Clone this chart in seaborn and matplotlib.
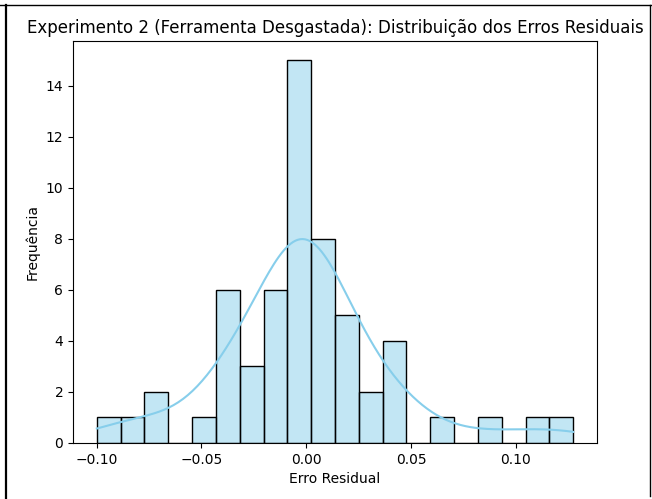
import numpy as np
import pandas as pd
import seaborn as sns
import matplotlib.pyplot as plt
from matplotlib.lines import Line2D

# histogram: 20 bins, data range about -0.0999 .. 0.1273
erro_min = -0.0999
erro_max = 0.1273
counts = [1, 1, 2, 0, 1, 6, 3, 6, 15, 8, 5, 2, 4, 0, 1, 0, 1, 0, 1, 1]

edges = np.linspace(erro_min, erro_max, len(counts) + 1)
centers = (edges[:-1] + edges[1:]) / 2
valores = np.repeat(centers, counts)
# the smallest and largest residual sit on the outer bin edges
valores[0] = erro_min
valores[-1] = erro_max
residuos = pd.DataFrame({'Erro Residual': valores})

fig = plt.figure(figsize=(6.52, 4.99), dpi=100)
ax = fig.add_axes([73 / 652, 1 - 443 / 499, (597 - 73) / 652, (443 - 41) / 499])

sns.histplot(data=residuos, x='Erro Residual', bins=20, kde=True, color='skyblue', ax=ax)
ax.set_title('Experimento 2 (Ferramenta Desgastada): Distribuição dos Erros Residuais')
ax.set_xlabel('Erro Residual')
ax.set_ylabel('Frequência')
ax.set_xticks([-0.10, -0.05, 0.00, 0.05, 0.10])
ax.set_yticks([0, 2, 4, 6, 8, 10, 12, 14])

# cell border from the screenshot
fig.add_artist(Line2D([0, 1], [1 - 5 / 499, 1 - 5 / 499], color='black', lw=1))
fig.add_artist(Line2D([5.5 / 652, 5.5 / 652], [0, 1 - 5 / 499], color='black', lw=1.6))
fig.add_artist(Line2D([650 / 652, 650 / 652], [3 / 499, 1 - 5 / 499], color='black', lw=1))

fig.savefig('out.png', dpi=100)
